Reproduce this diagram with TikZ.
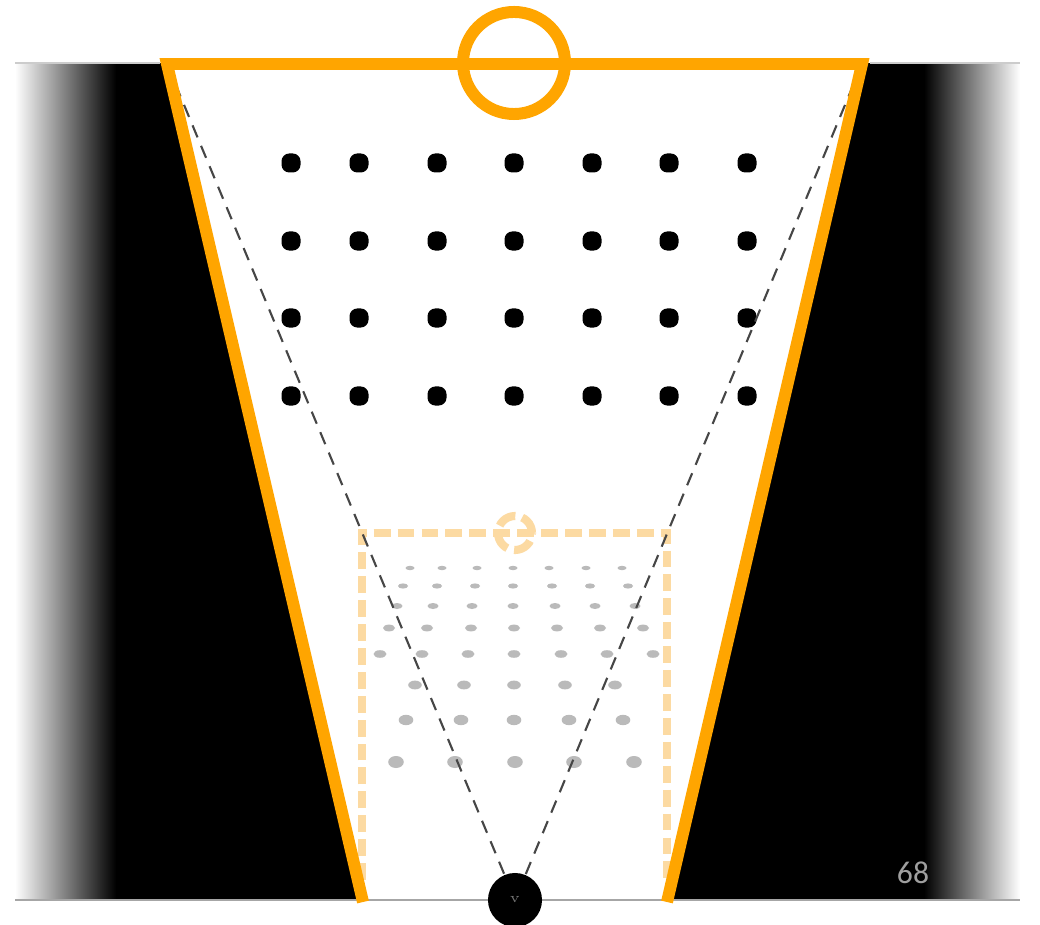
\documentclass[tikz,border=0pt]{standalone}
\usepackage{fontspec}
\newfontfamily\slidefont{Carlito}

\definecolor{frameorange}{RGB}{255,165,0}
\definecolor{ghostorange}{RGB}{252,218,162}
\definecolor{ghostgray}{RGB}{186,186,186}
\definecolor{sightgray}{RGB}{70,70,70}

\begin{document}
\begin{tikzpicture}[
  x=0.01cm, y=-0.01cm,
  frame/.style={draw=frameorange, line width=3.4pt, line join=miter},
  ghostframe/.style={draw=ghostorange, line width=2.3pt, dash pattern=on 4.8pt off 2pt},
  sightline/.style={draw=sightgray, line width=0.6pt, dash pattern=on 3.7pt off 2.6pt},
  seat/.style={rectangle, rounded corners=2.2pt, fill=black, minimum size=0.19cm, inner sep=0pt},
  eye/.style={circle, fill=black, minimum size=0.54cm, inner sep=0pt,
              font=\fontsize{4}{4}\selectfont, text=black!55}
]
\useasboundingbox (0,0) rectangle (1040,925);

% dark surround, fading out at both sides
\fill[black] (115,63) rectangle (925,900);
\shade[left color=white, right color=black] (15,63) rectangle (116,900);
\shade[left color=black, right color=white] (924,63) rectangle (1020,900);

% the screen
\coordinate (tl) at (167,64);
\coordinate (tr) at (862,64);
\coordinate (br) at (667,902);
\coordinate (bl) at (363,902);
\fill[white] (tl) -- (tr) -- (br) -- (bl) -- cycle;
\draw[gray!40, line width=0.3pt] (15,63) -- (160,63) (870,63) -- (1020,63);
\draw[gray!70, line width=0.4pt] (15,900) -- (1020,900);

% seats seen from the front
\foreach \y [count=\r] in {163,241,318,396}
  \foreach \x [count=\c] in {291,359,437,514,592,669,747}
    \node[seat] (seat-\r-\c) at (\x,\y) {};

% seats in perspective
\foreach \y/\rx/\ry/\xs in {
    568/4.5/2.2/{410,442,477,513,549,586,622},
    586/5/2.6/{403,437,475,513,552,590,628},
    606/5.5/3/{397,433,472,513,555,595,635},
    628/6/3.4/{389,427,471,514,557,600,643},
    654/6.5/3.8/{380,422,468,514,561,607,653},
    685/6.8/4.4/{415,464,514,565,615},
    720/7.3/5.2/{406,461,514,569,623},
    762/7.8/6/{396,455,515,574,634}}
  \foreach \x in \xs
    \fill[ghostgray] (\x,\y) ellipse [x radius=\rx*0.01cm, y radius=\ry*0.01cm];

% smaller frame
\coordinate (gl) at (362,880);
\coordinate (gr) at (667,880);
\draw[ghostframe] (gl) -- (362,533) -- (667,533) -- (gr);
\draw[ghostframe, dash pattern=on 5.5pt off 2pt] (515,533) circle [radius=0.17cm];

% lines of sight
\coordinate (eyepos) at (515,900);
\draw[sightline] (tl) -- (eyepos);
\draw[sightline] (tr) -- (eyepos);

% outer frame
\draw[frame] (bl) -- (tl) -- (tr) -- (br);
\draw[frame] (514,63) circle [radius=0.51cm];

\node[eye] (eye) at (eyepos) {v};
\node[text=gray!75, font=\slidefont\fontsize{9}{10}\selectfont] (pageno) at (913,873) {68};
\end{tikzpicture}
\end{document}
